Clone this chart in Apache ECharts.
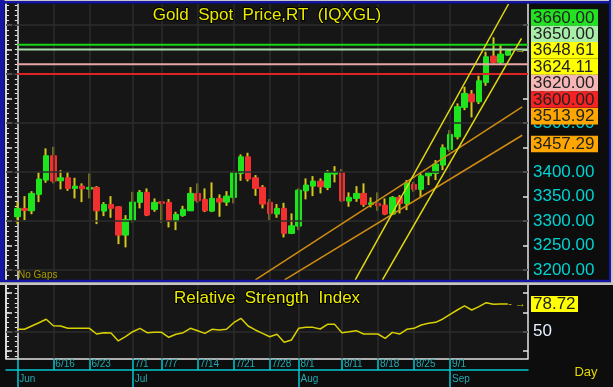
<!DOCTYPE html>
<html><head><meta charset="utf-8">
<script src="https://cdn.jsdelivr.net/npm/echarts@6/dist/echarts.min.js"></script>
<style>html,body{margin:0;padding:0;background:#0d0d0d;}#c{width:613px;height:387px;}</style>
</head><body><div id="c"></div>
<script>
// ---------- data ----------
const dates = ['6/9','6/10','6/11','6/12','6/13','6/16','6/17','6/18','6/19','6/20','6/23','6/24','6/25','6/26','6/27','6/30','7/1','7/2','7/3','7/4','7/7','7/8','7/9','7/10','7/11','7/14','7/15','7/16','7/17','7/18','7/21','7/22','7/23','7/24','7/25','7/28','7/29','7/30','7/31','8/1','8/4','8/5','8/6','8/7','8/8','8/11','8/12','8/13','8/14','8/15','8/18','8/19','8/20','8/21','8/22','8/25','8/26','8/27','8/28','8/29','9/1','9/2','9/3','9/4','9/5','9/8','9/9','9/10','9/11'];
const opens = [3308.8,3325.9,3321.0,3354.5,3383.7,3433.3,3382.2,3388.4,3366.7,3371.4,
 3365.3,3368.8,3320.4,3334.0,3329.2,3271.4,3302.0,3338.2,3358.6,3323.9,
 3339.4,3338.2,3300.0,3311.6,3321.0,3356.5,3344.3,3320.4,3346.3,3338.8,
 3348.4,3397.3,3431.2,3388.4,3368.8,3338.2,3314.3,3325.9,3274.9,3289.8,
 3361.8,3371.4,3381.6,3368.8,3395.9,3399.4,3340.8,3346.3,3356.5,3334.0,
 3336.1,3332.7,3314.3,3348.4,3336.1,3374.9,3364.7,3392.4,3397.3,3414.3,
 3446.3,3472.0,3532.0,3559.2,3543.5,3583.0,3636.7,3623.9,3638.8];
const closes = [3325.9,3321.8,3356.5,3385.7,3433.3,3381.6,3388.4,3366.7,3371.4,3365.9,
 3368.8,3321.0,3334.0,3325.9,3271.4,3303.5,3338.8,3358.6,3312.2,3338.2,
 3336.1,3300.0,3313.7,3323.9,3356.5,3341.4,3321.0,3346.3,3338.8,3351.0,
 3399.4,3431.2,3385.7,3366.7,3334.7,3315.7,3325.9,3274.9,3290.4,3363.3,
 3373.5,3381.6,3370.0,3399.4,3399.4,3341.4,3348.4,3356.5,3334.0,3337.3,
 3331.2,3314.3,3348.4,3336.1,3377.0,3364.7,3392.4,3398.6,3416.3,3449.6,
 3476.9,3533.3,3560.6,3543.5,3586.3,3635.3,3623.9,3640.8,3648.61];
const lows = [3293.9,3302.0,3314.0,3338.8,3378.2,3377.0,3364.7,3361.8,3346.3,3338.8,
 3346.3,3293.9,3310.2,3306.7,3253.0,3246.3,3297.3,3325.9,3310.2,3319.0,
 3296.5,3287.1,3281.6,3308.8,3321.0,3337.3,3318.4,3318.4,3308.8,3331.2,
 3336.1,3382.2,3381.0,3351.6,3325.9,3302.0,3306.7,3266.7,3273.5,3281.6,
 3344.3,3351.0,3356.5,3363.3,3379.0,3339.4,3329.2,3339.4,3329.2,3328.0,
 3321.0,3312.2,3312.2,3315.7,3322.4,3359.8,3349.6,3373.5,3383.7,3404.0,
 3441.4,3466.7,3526.5,3511.6,3538.8,3576.1,3621.8,3620.4,3637.3];
const highs = [3339.4,3351.0,3361.0,3399.4,3448.4,3451.6,3404.0,3400.6,3388.4,3377.0,
 3397.3,3371.4,3338.8,3351.0,3330.5,3312.2,3359.8,3363.3,3366.7,3346.3,
 3340.5,3344.9,3319.0,3331.2,3369.4,3377.0,3366.7,3379.0,3354.5,3361.2,
 3402.0,3436.1,3439.4,3393.9,3373.5,3344.9,3334.7,3337.3,3315.7,3366.7,
 3387.1,3391.8,3387.1,3404.0,3412.2,3406.1,3358.6,3371.4,3377.0,3348.4,
 3358.6,3346.3,3351.0,3353.0,3383.7,3380.2,3397.3,3400.6,3424.5,3456.5,
 3485.7,3540.2,3574.1,3567.3,3596.5,3645.5,3674.9,3659.2,3650.4];
const rsi = [52.5,52.5,55.9,59.3,62.9,56.2,55.9,53.5,53.5,53.5,
 53.5,47.6,49.0,48.7,40.4,44.8,50.0,53.5,49.0,49.4,
 49.4,44.2,47.3,49.0,53.5,51.0,48.3,52.5,51.8,52.5,
 59.3,63.9,55.9,51.8,48.3,44.8,47.3,39.0,41.4,53.5,
 54.5,54.5,52.8,57.6,57.6,49.0,50.0,51.1,47.6,47.6,
 47.6,43.1,49.3,47.6,52.5,53.5,57.0,58.7,59.7,63.2,
 68.0,72.5,76.7,72.5,76.0,80.1,78.4,78.7,78.72];
const levelValues = [3660, 3650, 3620, 3600];
const trendOrangeUpper = [[33.0, 3180], [70, 3533.0]];
const trendOrangeLower = [[37.05, 3180], [70, 3475.2]];
const trendYellowUpper = [[46.85, 3180], [68.1, 3743]];
const trendYellowLower = [[50.62, 3180], [69.9, 3672.7]];
const boxLabels = [3660, 3650, 3648.61, 3624.11, 3620, 3600, 3513.92, 3457.29];
const priceLabels = [3200,3250,3300,3350,3400,3450,3500,3550,3600,3650,3700];
const priceGridValues = [3200,3300,3400,3500,3600,3700];
const weekTicks = ['6/16','6/23','7/1','7/7','7/14','7/21','7/28','8/1','8/11','8/18','8/25','9/1'];
const monthStarts = ['6/9','7/1','8/1','9/1'];
const monthNames = ['Jun','Jul','Aug','Sep'];
const rsiLabelValues = [50];
const rsiGridValues = [50];

// ---------- styles ----------
const WICK='#d4c61c', UP='#1ee41e', DOWN='#f23030', GRIDC='#2c2c2c', AX='#e4e4e4', CYAN='#00c8d0', TEAL='#22aab0';
const levelColors = ['#18d418','#a6dca6','#eaa6a6','#dc2424'];
const boxColors = ['#22e222','#a8eea8','#ffff00','#ffff00','#f6b6b6','#f42222','#ffa600','#ffa600'];
const XMIN = -1.567, XMAX = 70.8;
const PMIN = 3180, PMAX = 3743, RMIN = 22.2, RMAX = 98.44;

const weekIdx = weekTicks.map(d => dates.indexOf(d));
const monthIdx = monthStarts.map(d => dates.indexOf(d));
const lastIdx = dates.length - 1;
const priceMinor=[]; for(let v=PMIN; v<=3740; v+=10) priceMinor.push(v);
const rsiMinor=[]; for(let v=25; v<=95; v+=5) rsiMinor.push(v);
const rsiMajor=[30,50,70,90];

function tickAxis(gi, pos, min, max, ticks, len, w, label){
  return {gridIndex:gi, type:'value', position:pos, min:min, max:max,
    axisLine:{show:true, lineStyle:{color:AX, width:1.5}},
    axisTick:{show:true, inside:true, length:len, customValues:ticks, lineStyle:{color:AX, width:w}},
    axisLabel: label || {show:false}, splitLine:{show:false}};
}
const chart = echarts.init(document.getElementById('c'), null, {renderer:'canvas'});
const titleStyle = {color:'#ecec00', fontSize:17, fontWeight:'normal', textBorderColor:'#000', textBorderWidth:2, lineHeight:18};
const option = {
  animation:false,
  backgroundColor:'#0d0d0d',
  textStyle:{fontFamily:'"Liberation Sans", Arial, sans-serif'},
  title:[
    {text:'Gold  Spot  Price,RT  (IQXGL)', left:267, top:6, textAlign:'center', padding:0, textStyle:titleStyle},
    {text:'Relative  Strength  Index', left:267, top:289, textAlign:'center', padding:0, textStyle:titleStyle}
  ],
  grid:[
    {left:6, top:4, width:522, height:275.9, show:true, backgroundColor:'#161616', borderWidth:0},
    {left:6, top:285, width:522, height:73.5, show:true, backgroundColor:'#161616', borderWidth:0},
    {left:6, top:358.5, width:522, height:11.5, show:false},
    {left:6, top:370, width:522, height:17, show:false}
  ],
  xAxis:[
    {gridIndex:0, type:'value', min:XMIN, max:XMAX, show:false, splitLine:{show:false}},
    {gridIndex:1, type:'value', min:XMIN, max:XMAX, position:'bottom', axisLine:{show:true, lineStyle:{color:AX, width:1.5}}, axisTick:{show:false}, axisLabel:{show:false}, splitLine:{show:false}},
    {gridIndex:2, type:'value', min:XMIN, max:XMAX, position:'bottom',
      axisLine:{show:true, lineStyle:{color:CYAN, width:1.5}},
      axisTick:{show:true, inside:true, length:11.5, customValues:weekIdx, lineStyle:{color:CYAN, width:1.5}},
      axisLabel:{show:true, inside:true, customValues:weekIdx, formatter:v=>dates[Math.round(v)], color:TEAL, fontSize:10, align:'left', margin:1, padding:[0,0,0,2]},
      splitLine:{show:false}},
    {gridIndex:3, type:'value', min:XMIN, max:XMAX, position:'bottom',
      axisLine:{show:false},
      axisTick:{show:true, inside:true, length:17, customValues:monthIdx.slice(1), lineStyle:{color:CYAN, width:1.5}},
      axisLabel:{show:true, inside:true, customValues:monthIdx, formatter:v=>monthNames[monthIdx.indexOf(Math.round(v))], color:TEAL, fontSize:10, align:'left', margin:3, padding:[0,0,0,2]},
      splitLine:{show:false}}
  ],
  yAxis:[
    tickAxis(0,'right',PMIN,PMAX,priceMinor,2.5,1,{show:true, customValues:priceLabels, color:'#00d2d2', fontSize:17, margin:5, formatter:v=>v.toFixed(2)}),
    tickAxis(0,'right',PMIN,PMAX,priceLabels,5,1.5),
    tickAxis(0,'left',PMIN,PMAX,priceMinor,3,1),
    tickAxis(0,'left',PMIN,PMAX,priceLabels,6,1.5),
    tickAxis(1,'right',RMIN,RMAX,rsiMinor,2.5,1,{show:true, customValues:rsiLabelValues, color:'#e6f2ff', fontSize:17, margin:5}),
    tickAxis(1,'right',RMIN,RMAX,rsiMajor,5,1.5),
    tickAxis(1,'left',RMIN,RMAX,rsiMinor,3,1),
    tickAxis(1,'left',RMIN,RMAX,rsiMajor,6,1.5),
    {gridIndex:2, type:'value', min:0, max:1, position:'right', axisLine:{show:true, lineStyle:{color:CYAN, width:1.5}}, axisTick:{show:false}, axisLabel:{show:false}, splitLine:{show:false}},
    {gridIndex:3, type:'value', min:0, max:1, position:'right', axisLine:{show:true, lineStyle:{color:CYAN, width:1.5}}, axisTick:{show:false}, axisLabel:{show:false}, splitLine:{show:false}}
  ],
  series:[]
};
const gl = (xi, yi, data) => ({type:'line', xAxisIndex:xi, yAxisIndex:yi, data:[], z:1, silent:true,
  markLine:{silent:true, symbol:['none','none'], label:{show:false}, lineStyle:{color:GRIDC, width:1.5, type:'solid'}, emphasis:{disabled:true}, animation:false, data:data}});
option.series.push(gl(0,0, weekIdx.map(i=>({xAxis:i})).concat(priceGridValues.map(v=>({yAxis:v})))));
option.series.push(gl(1,4, weekIdx.map(i=>({xAxis:i})).concat(rsiGridValues.map(v=>({yAxis:v})))));
option.series.push({type:'candlestick', xAxisIndex:0, yAxisIndex:0, z:3, barWidth:1,
  data: dates.map((d,i)=>[i, opens[i], closes[i], lows[i], highs[i]]),
  itemStyle:{color:WICK, color0:WICK, borderColor:WICK, borderColor0:WICK, borderColorDoji:WICK, borderWidth:2}});
option.series.push({type:'candlestick', xAxisIndex:0, yAxisIndex:0, z:4, barWidth:6,
  data: dates.map((d,i)=>[i, opens[i], closes[i], Math.min(opens[i],closes[i]), Math.max(opens[i],closes[i])]),
  itemStyle:{color:UP, color0:DOWN, borderColor:UP, borderColor0:DOWN, borderColorDoji:DOWN, borderWidth:1}});
levelValues.forEach((v,k)=>option.series.push({type:'line', xAxisIndex:0, yAxisIndex:0, z:5, symbol:'none', silent:true,
  data:[[0,v],[XMAX,v]], lineStyle:{color:levelColors[k], width:2}}));
[[trendOrangeUpper,'#d08c12'],[trendOrangeLower,'#d08c12'],[trendYellowUpper,'#e2da10'],[trendYellowLower,'#e2da10']].forEach(t=>
  option.series.push({type:'line', xAxisIndex:0, yAxisIndex:0, z:6, symbol:'none', silent:true, clip:true, data:t[0], lineStyle:{color:t[1], width:1.5}}));
option.series.push({type:'line', xAxisIndex:1, yAxisIndex:4, z:5, symbol:'none', silent:true,
  data: rsi.map((v,i)=>[i,v]), lineStyle:{color:'#d8d000', width:1.5}});
const arrowLabel = {show:true, position:'inside', formatter:'- →', color:'#f0e800', fontSize:11};
option.series.push({type:'scatter', xAxisIndex:0, yAxisIndex:0, z:7, symbolSize:0, silent:true, data:[[lastIdx+1.3, closes[lastIdx]]], label:arrowLabel});
option.series.push({type:'scatter', xAxisIndex:1, yAxisIndex:4, z:7, symbolSize:0, silent:true, data:[[lastIdx+1.3, rsi[lastIdx]]], label:arrowLabel});
chart.setOption(option);

// ---------- right-hand value boxes, stacked around the last price ----------
const H = 16.4;
const els = [];
const trueY = boxLabels.map(v => chart.convertToPixel({yAxisIndex:0}, v));
const anchor = boxLabels.indexOf(closes[lastIdx]);
const ys = trueY.slice();
for (let j=anchor-1;j>=0;j--) ys[j] = Math.min(trueY[j], ys[j+1]-H);
for (let j=anchor+1;j<ys.length;j++) ys[j] = Math.max(trueY[j], ys[j-1]+H);
boxLabels.forEach((v,j)=>{
  els.push({type:'rect', z:100, shape:{x:531, y:ys[j]-H/2, width:67, height:H}, style:{fill:boxColors[j]}});
  els.push({type:'text', z:101, x:533, y:ys[j]+0.5, style:{text:v.toFixed(2), fill:'#222', font:'17px "Liberation Sans", Arial', textVerticalAlign:'middle'}});
});
const ry = chart.convertToPixel({yAxisIndex:4}, rsi[lastIdx]);
els.push({type:'rect', z:100, shape:{x:531, y:ry-8, width:47, height:16}, style:{fill:'#ffff00'}});
els.push({type:'text', z:101, x:533, y:ry+0.5, style:{text:rsi[lastIdx].toFixed(2), fill:'#222', font:'17px "Liberation Sans", Arial', textVerticalAlign:'middle'}});
// frame
const BLUE='#1616a4', LG='#c6c6c6';
els.push({type:'rect', z:90, shape:{x:0,y:0,width:613,height:1}, style:{fill:LG}});
els.push({type:'rect', z:90, shape:{x:0,y:1,width:613,height:2.5}, style:{fill:BLUE}});
els.push({type:'rect', z:90, shape:{x:0,y:0,width:4.5,height:282}, style:{fill:BLUE}});
els.push({type:'rect', z:90, shape:{x:0,y:279.8,width:613,height:2.4}, style:{fill:BLUE}});
els.push({type:'rect', z:90, shape:{x:0,y:282.2,width:613,height:2.8}, style:{fill:LG}});
els.push({type:'rect', z:90, shape:{x:609,y:0,width:2,height:282}, style:{fill:BLUE}});
els.push({type:'rect', z:90, shape:{x:611,y:0,width:2,height:285}, style:{fill:LG}});
// texts
els.push({type:'text', z:101, x:18, y:275, style:{text:'No Gaps', fill:'#a89a00', font:'10px "Liberation Sans", Arial', textVerticalAlign:'middle'}});
els.push({type:'text', z:101, x:586, y:372, style:{text:'Day', fill:'#e0d800', font:'13px "Liberation Sans", Arial', textAlign:'center', textVerticalAlign:'middle'}});
chart.setOption({graphic:{elements:els}});
</script></body></html>
